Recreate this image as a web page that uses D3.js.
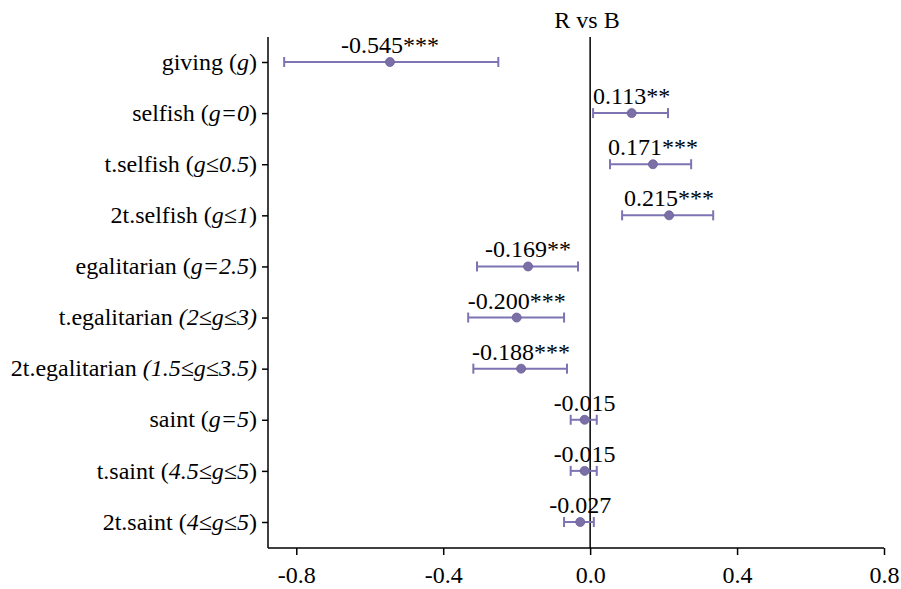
<!DOCTYPE html>
<html>
<head>
<meta charset="utf-8">
<script src="https://cdn.jsdelivr.net/npm/d3@7"></script>
<style>
  body { margin: 0; background: #fff; }
  svg text { font-family: "Liberation Serif", "DejaVu Serif", serif; fill: #000; }
</style>
</head>
<body>
<div class="coef-chart"></div>
<script>
// category labels: [plain, italic, plain]
const labelParts = [
  ["giving (", "g", ")"],
  ["selfish (", "g=0", ")"],
  ["t.selfish (", "g≤0.5", ")"],
  ["2t.selfish (", "g≤1", ")"],
  ["egalitarian (", "g=2.5", ")"],
  ["t.egalitarian ", "(2≤g≤3)", ""],
  ["2t.egalitarian ", "(1.5≤g≤3.5)", ""],
  ["saint (", "g=5", ")"],
  ["t.saint (", "4.5≤g≤5", ")"],
  ["2t.saint (", "4≤g≤5", ")"]
];
const estimates = [-0.545, 0.113, 0.171, 0.215, -0.169, -0.200, -0.188, -0.015, -0.015, -0.027];
const lower = [-0.833, 0.008, 0.054, 0.087, -0.308, -0.332, -0.318, -0.053, -0.053, -0.071];
const upper = [-0.250, 0.212, 0.275, 0.335, -0.033, -0.071, -0.063, 0.018, 0.018, 0.010];
const stars = ["***", "**", "***", "***", "**", "***", "***", "", "", ""];
const xTicks = [-0.8, -0.4, 0.0, 0.4, 0.8];
const title = "R vs B";

const W = 901, H = 589;
const mLeft = 268, mRight = 884, mTop = 37, mBottom = 548;
const purple = "#7d74b3";
const serif = "'Liberation Serif', 'DejaVu Serif', serif";

const loc = d3.formatLocale({ decimal: ".", thousands: ",", grouping: [3], currency: ["", ""], minus: "-" });
const f3 = loc.format(".3f"), f1 = loc.format(".1f");

const svg = d3.select(".coef-chart").append("svg")
  .attr("width", W).attr("height", H)
  .attr("font-family", serif);

const x = d3.scaleLinear().domain([-0.877, 0.8]).range([mLeft, mRight]);
const y = d3.scalePoint().domain(d3.range(labelParts.length)).range([62, 522]);

// x axis
const xAxis = svg.append("g")
  .attr("transform", `translate(0,${mBottom})`)
  .call(d3.axisBottom(x).tickValues(xTicks).tickFormat(f1).tickSize(7).tickSizeOuter(0))
  .attr("font-family", serif);
xAxis.select(".domain").attr("stroke", "#000").attr("stroke-width", 1.5)
  .attr("d", `M${mLeft},0H${x(0.8)}`);
xAxis.selectAll(".tick line").attr("stroke-width", 1.5);
xAxis.selectAll(".tick text").attr("font-size", 24).attr("dy", "1.05em")
  .style("font-family", serif);

// y axis
const yAxis = svg.append("g")
  .attr("transform", `translate(${mLeft},0)`)
  .call(d3.axisLeft(y).tickSize(6).tickSizeOuter(0).tickFormat(""));
yAxis.select(".domain").attr("stroke", "#000").attr("stroke-width", 1.5)
  .attr("d", `M0,${mTop}V${mBottom}`);
yAxis.selectAll(".tick line").attr("stroke-width", 1.5);

svg.append("g").selectAll("text.cat")
  .data(labelParts)
  .join("text")
  .attr("class", "cat")
  .attr("x", mLeft - 11)
  .attr("y", (d, i) => y(i))
  .attr("dy", "0.32em")
  .attr("text-anchor", "end")
  .attr("font-size", 24)
  .style("font-family", serif)
  .each(function (d) {
    const t = d3.select(this);
    d.forEach((s, k) => {
      if (!s) return;
      t.append("tspan").text(s).attr("font-style", k === 1 ? "italic" : "normal");
    });
  });

// zero line
svg.append("line")
  .attr("x1", x(0)).attr("x2", x(0))
  .attr("y1", mTop).attr("y2", mBottom)
  .attr("stroke", "#000").attr("stroke-width", 1.5);

// title
svg.append("text")
  .attr("x", 587).attr("y", 28)
  .attr("text-anchor", "middle")
  .attr("font-size", 24)
  .style("font-family", serif)
  .text(title);

// error bars
const rows = svg.append("g").selectAll("g")
  .data(estimates)
  .join("g");

rows.append("line")
  .attr("x1", (d, i) => x(lower[i])).attr("x2", (d, i) => x(upper[i]))
  .attr("y1", (d, i) => y(i)).attr("y2", (d, i) => y(i))
  .attr("stroke", purple).attr("stroke-width", 2);

rows.append("line")
  .attr("x1", (d, i) => x(lower[i])).attr("x2", (d, i) => x(lower[i]))
  .attr("y1", (d, i) => y(i) - 5).attr("y2", (d, i) => y(i) + 5)
  .attr("stroke", purple).attr("stroke-width", 2);

rows.append("line")
  .attr("x1", (d, i) => x(upper[i])).attr("x2", (d, i) => x(upper[i]))
  .attr("y1", (d, i) => y(i) - 5).attr("y2", (d, i) => y(i) + 5)
  .attr("stroke", purple).attr("stroke-width", 2);

rows.append("circle")
  .attr("cx", d => x(d)).attr("cy", (d, i) => y(i))
  .attr("r", 4.5)
  .attr("fill", "#7b6fa6").attr("stroke", "#6a5f98").attr("stroke-width", 0.8);

rows.append("text")
  .attr("x", d => x(d)).attr("y", (d, i) => y(i) - 9)
  .attr("text-anchor", "middle")
  .attr("font-size", 24)
  .style("font-family", serif)
  .text((d, i) => f3(d) + stars[i]);
</script>
</body>
</html>
